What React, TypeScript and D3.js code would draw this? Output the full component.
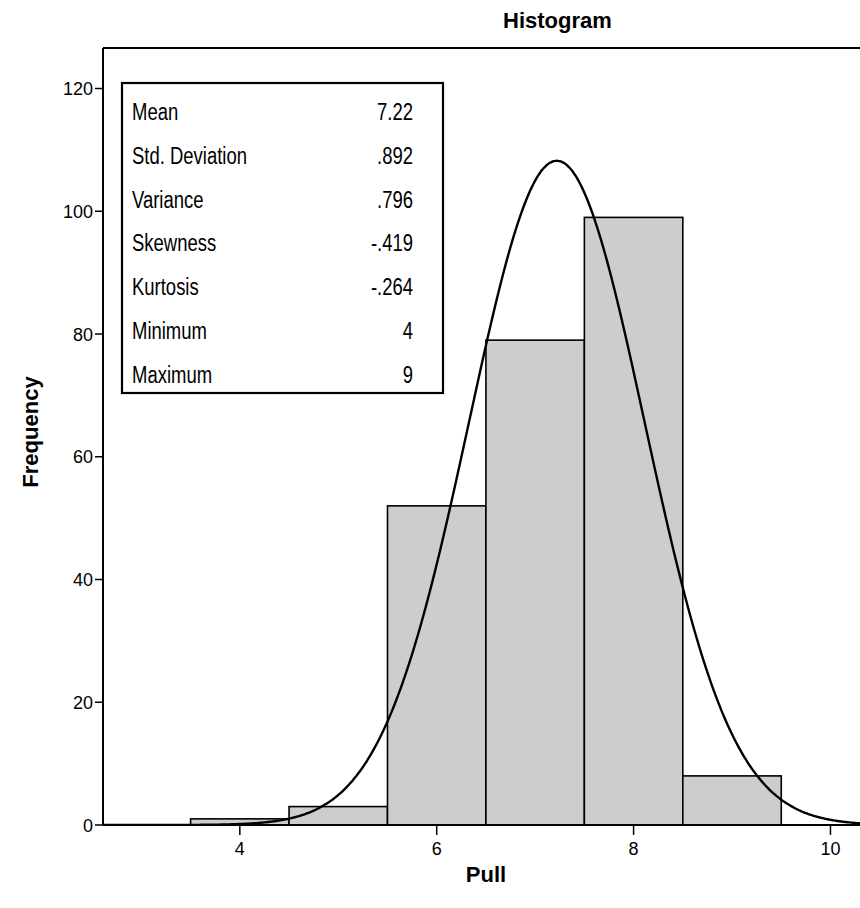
import React from "react";
import * as d3 from "d3";

const binCenters = [4, 5, 6, 7, 8, 9];
const frequencies = [1, 3, 52, 79, 99, 8];
const yTicks = [0, 20, 40, 60, 80, 100, 120];
const xTicks = [4, 6, 8, 10];
const statLabels = ["Mean", "Std. Deviation", "Variance", "Skewness", "Kurtosis", "Minimum", "Maximum"];
const statValues = ["7.22", ".892", ".796", "-.419", "-.264", "4", "9"];
const meanValue = 7.22;
const sdValue = 0.892;

export default function App() {
  const W = 860, H = 908;
  const left = 103, right = 860, top = 48, bottom = 825;
  const x = d3.scaleLinear().domain([2.61, 10.3]).range([left, right]);
  const y = d3.scaleLinear().domain([0, 126.6]).range([bottom, top]);
  const N = d3.sum(frequencies);
  const binW = 1;
  const pdf = (v: number) =>
    (N * binW / (sdValue * Math.sqrt(2 * Math.PI))) * Math.exp(-0.5 * ((v - meanValue) / sdValue) ** 2);
  const curvePts = d3.range(2.61, 10.31, 0.02).map((v) => [v, pdf(v)] as [number, number]);
  const line = d3.line<[number, number]>().x((d) => x(d[0])).y((d) => y(d[1])).curve(d3.curveBasis);
  const font = "'Liberation Sans', Arial, sans-serif";
  const sx = 0.77;
  const boxL = 122, boxT = 83, boxR = 443, boxB = 393;
  return (
    <svg width={W} height={H} style={{ position: "absolute", left: 0, top: 0, background: "#fff" }}>
      <defs>
        <clipPath id="plot">
          <rect x={left} y={top} width={right - left} height={bottom - top} />
        </clipPath>
      </defs>
      <rect x={0} y={0} width={W} height={H} fill="#fff" />
      <text x={503} y={28} fontFamily={font} fontWeight="bold" fontSize={22}>Histogram</text>
      {/* bars */}
      {binCenters.map((c, i) => (
        <rect key={i} x={x(c - binW / 2)} y={y(frequencies[i])} width={x(c + binW / 2) - x(c - binW / 2)}
          height={bottom - y(frequencies[i])} fill="#cdcdcd" stroke="#000" strokeWidth={1.6} />
      ))}
      {/* normal curve */}
      <path d={line(curvePts) || ""} fill="none" stroke="#000" strokeWidth={2.4} clipPath="url(#plot)" />
      {/* frame */}
      <line x1={left} x2={right} y1={top} y2={top} stroke="#000" strokeWidth={2.2} />
      <line x1={left} x2={left} y1={top} y2={bottom} stroke="#000" strokeWidth={2} />
      <line x1={left} x2={right} y1={bottom} y2={bottom} stroke="#000" strokeWidth={2} />
      {/* y ticks */}
      {yTicks.map((t) => (
        <g key={t}>
          <line x1={left - 8} x2={left} y1={y(t)} y2={y(t)} stroke="#000" strokeWidth={1.5} />
          <text x={left - 10} y={y(t) + 6.5} textAnchor="end" fontFamily={font} fontSize={18}>{t}</text>
        </g>
      ))}
      {/* x ticks */}
      {xTicks.map((t) => (
        <g key={t}>
          <line x1={x(t)} x2={x(t)} y1={bottom} y2={bottom + 10} stroke="#000" strokeWidth={1.5} />
          <text x={x(t)} y={bottom + 30} textAnchor="middle" fontFamily={font} fontSize={18}>{t}</text>
        </g>
      ))}
      <text x={486} y={882} textAnchor="middle" fontFamily={font} fontWeight="bold" fontSize={22}>Pull</text>
      <text transform={`translate(38,432) rotate(-90)`} textAnchor="middle" fontFamily={font}
        fontWeight="bold" fontSize={22}>Frequency</text>
      {/* stats box */}
      <rect x={boxL} y={boxT} width={boxR - boxL} height={boxB - boxT} fill="#fff" stroke="#000" strokeWidth={2.2} />
      <g transform={`scale(${sx},1)`}>
        {statLabels.map((s, i) => (
          <g key={s}>
            <text x={132 / sx} y={120 + i * 43.8} fontFamily={font} fontSize={24}>{s}</text>
            <text x={413 / sx} y={120 + i * 43.8} textAnchor="end" fontFamily={font} fontSize={24}>{statValues[i]}</text>
          </g>
        ))}
      </g>
    </svg>
  );
}
